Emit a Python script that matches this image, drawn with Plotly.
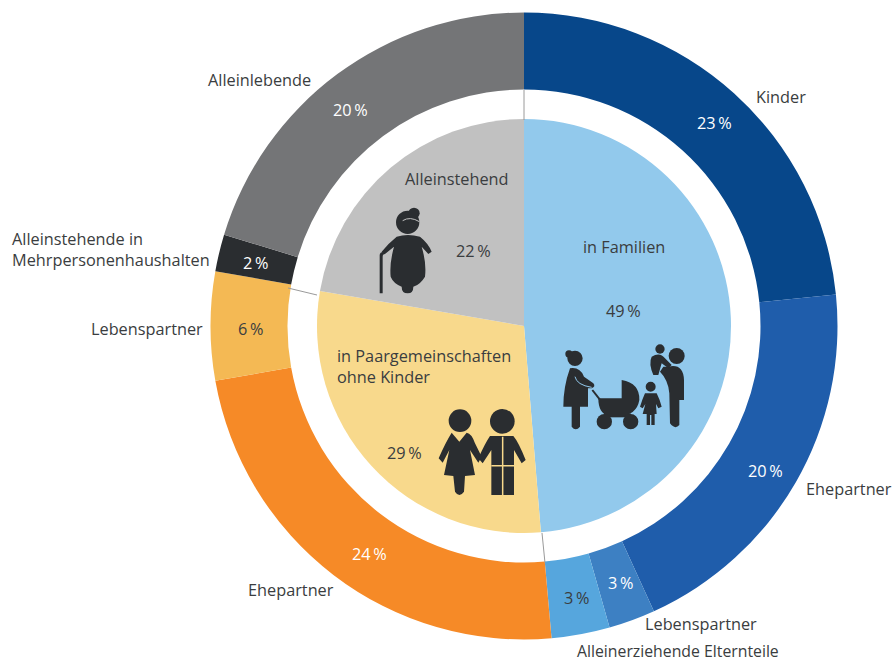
import re
import plotly.graph_objects as go

W, H = 893, 662

# --- data ---
outer_groups = ["Familien", "Familien", "Familien", "Familien", "Paare", "Paare", "Allein", "Allein"]
outer_labels = ["Kinder", "Ehepartner", "Lebenspartner", "Alleinerziehende Elternteile",
                "Ehepartner", "Lebenspartner", "Alleinstehende in Mehrpersonenhaushalten", "Alleinlebende"]
outer_values = [23.4, 19.8, 2.4, 3.0, 23.6, 5.6, 1.9, 20.3]
outer_printed = ["23\u2009%", "20\u2009%", "3\u2009%", "3\u2009%", "24\u2009%", "6\u2009%", "2\u2009%", "20\u2009%"]
outer_colors = ["#07478a", "#1f5dab", "#3d80c3", "#56a6dd", "#f68a27", "#f4b954", "#2a2d30", "#747577"]

inner_labels = ["in Familien", "in Paargemeinschaften ohne Kinder", "Alleinstehend"]
inner_values = [48.7, 29.0, 22.3]
inner_printed = ["49\u2009%", "29\u2009%", "22\u2009%"]
inner_colors = ["#92c9ec", "#f8d98c", "#c1c1c1"]

FONT = "Open Sans"
DARK = "#3a3d40"
INK = "#2a2d30"
CX, CY, R_OUT, R_HOLE, R_IN = 524, 326, 313.5, 236.5, 207


def px(x):
    return x / W


def py(y):
    return 1 - y / H


def pie_domain(r):
    return dict(x=[px(CX - r), px(CX + r)], y=[py(CY + r), py(CY - r)])


fig = go.Figure()
fig.add_trace(go.Pie(values=outer_values,
                     labels=[f"{g}: {l}" for g, l in zip(outer_groups, outer_labels)],
                     marker=dict(colors=outer_colors, line=dict(width=0)),
                     hole=R_HOLE / R_OUT, sort=False, direction="clockwise", rotation=0,
                     domain=pie_domain(R_OUT), textinfo="none", showlegend=False))
fig.add_trace(go.Pie(values=inner_values, labels=inner_labels, marker=dict(colors=inner_colors, line=dict(width=0)),
                     sort=False, direction="clockwise", rotation=0,
                     domain=pie_domain(R_IN), textinfo="none", showlegend=False))

annotations = []


def text(x, y, s, color=DARK, anchor="center", size=16.3):
    annotations.append(dict(x=px(x), y=py(y), xref="paper", yref="paper", text=s, showarrow=False,
                            xanchor=anchor, yanchor="middle", align="left" if anchor == "left" else "center",
                            font=dict(family=FONT, size=size, color=color)))


# category labels
text(259, 80, outer_labels[7])
text(781, 97, outer_labels[0])
text(849, 489, outer_labels[1])
text(701, 624, outer_labels[2])
text(678, 651, outer_labels[3], size=15.8)
text(291, 590, outer_labels[4])
text(147, 329, outer_labels[5])
text(10, 249.5, "Alleinstehende in<br>Mehrpersonenhaushalten", anchor="left")
text(457, 179, inner_labels[2])
text(624, 247, inner_labels[0])
text(335, 366.5, "in Paargemeinschaften<br>ohne Kinder", anchor="left")

# printed percentages
text(714, 123, outer_printed[0], "#ffffff")
text(765, 471, outer_printed[1], "#ffffff")
text(620, 583, outer_printed[2], "#ffffff")
text(576, 598, outer_printed[3], DARK)
text(369, 554, outer_printed[4], "#ffffff")
text(250, 329, outer_printed[5], DARK)
text(255, 263, outer_printed[6], "#ffffff")
text(350, 110, outer_printed[7], "#ffffff")
text(623, 311, inner_printed[0])
text(404, 453, inner_printed[1])
text(473, 251, inner_printed[2])

shapes = []


# icon geometry is traced in a 3x crop coordinate system
def zx(x):
    return px(360 + x / 3)


def zy(y):
    return py(180 + y / 3)


def path(d, fill=INK, line=None, lw=0):
    tokens = re.findall(r"[A-Za-z]|-?\d+\.?\d*", d)
    out, is_x = [], True
    for t in tokens:
        if t.isalpha():
            out.append(t)
        else:
            v = float(t)
            out.append(f"{zx(v):.5f}" if is_x else f"{zy(v):.5f}")
            is_x = not is_x
    shapes.append(dict(type="path", path=" ".join(out), xref="paper", yref="paper",
                       fillcolor=fill, line=dict(width=lw, color=line or fill)))


def circle(x, y, r):
    shapes.append(dict(type="circle", xref="paper", yref="paper",
                       x0=zx(x - r), x1=zx(x + r), y0=zy(y + r), y1=zy(y - r),
                       fillcolor=INK, line=dict(width=0)))


def sep(x0, y0, x1, y1):
    shapes.append(dict(type="line", xref="paper", yref="paper", x0=px(x0), y0=py(y0), x1=px(x1), y1=py(y1),
                       line=dict(color="#9a9a9a", width=1)))


# thin separators between inner pie and ring
sep(524, 90, 524, 120)
sep(542, 533, 545, 563)
sep(288, 288, 317, 295)

# old woman
circle(143, 127, 35)
circle(162, 100, 17)
path("M 110 170 Q 143 160 180 170 Q 205 190 215 215 L 205 222 L 185 200 Q 200 250 195 290 Q 180 315 160 320 "
     "Q 160 340 143 340 Q 125 340 125 320 Q 100 310 92 290 Q 88 250 102 200 L 75 222 L 65 215 Q 85 190 110 170 Z")
path("M 59 340 L 59 225 Q 59 215 75 215 L 75 222 Q 68 222 68 230 L 68 340 Z")
path("M 128 122 Q 150 108 178 125", fill="rgba(0,0,0,0)", line="#c1c1c1", lw=1)

# mother
circle(645, 535, 23)
circle(627, 522, 11)
path("M 630 565 Q 660 560 672 590 L 700 610 Q 708 620 695 625 L 684 625 L 684 680 L 660 680 L 660 740 "
     "Q 647 755 635 740 L 635 680 L 610 680 Q 610 620 630 565 Z")
path("M 645 590 Q 650 615 695 622", fill="rgba(0,0,0,0)", line="#92c9ec", lw=1)
# pram
path("M 697 630 L 722 662", fill="rgba(0,0,0,0)", line=INK, lw=2)
path("M 715 655 L 785 655 L 785 600 Q 840 610 838 660 Q 830 705 780 708 L 745 708 Q 715 700 715 655 Z")
path("M 733 700 L 812 700 L 812 712 L 733 712 Z")
circle(733, 725, 23)
circle(812, 725, 23)
# child
circle(872, 620, 15)
path("M 855 640 L 890 640 Q 900 660 905 680 L 895 685 L 888 672 L 890 702 L 884 702 L 884 735 L 874 735 "
     "L 874 705 L 870 705 L 870 735 L 860 735 L 860 702 L 848 702 L 856 672 L 848 685 L 840 680 Q 848 655 855 640 Z")
# father and baby
circle(950, 528, 24)
path("M 925 560 Q 970 550 972 600 L 972 660 L 958 660 L 958 735 Q 945 750 930 730 L 928 640 Q 925 600 900 575 L 910 560 Z")
circle(900, 507, 14)
path("M 875 530 Q 900 515 915 535 L 935 555 L 925 565 L 905 550 L 895 585 L 880 585 Q 865 550 875 530 Z")

# couple
circle(300, 722, 34)
circle(427, 724, 37)
path("M 275 758 L 298 785 L 320 758 Q 335 760 345 790 L 365 830 L 355 848 L 330 810 L 345 885 L 315 888 "
     "L 312 935 Q 298 955 285 935 L 280 888 L 252 885 L 268 810 L 248 848 L 236 835 Q 255 790 275 758 Z")
path("M 390 768 L 460 768 Q 475 785 497 840 L 485 850 L 462 810 L 462 945 L 394 945 L 394 810 L 368 850 "
     "L 355 835 Q 375 790 390 768 Z")
path("M 428 770 L 428 945 M 394 857 L 462 857", fill="rgba(0,0,0,0)", line="#f8d98c", lw=1.5)

fig.update_layout(width=W, height=H, margin=dict(l=0, r=0, t=0, b=0), paper_bgcolor="#ffffff",
                  plot_bgcolor="#ffffff", showlegend=False, annotations=annotations, shapes=shapes,
                  font=dict(family=FONT))
fig.write_html("out.html", config=dict(displayModeBar=False),
               post_script="document.documentElement.style.margin='0';document.body.style.margin='0';document.documentElement.style.overflow='hidden';")
